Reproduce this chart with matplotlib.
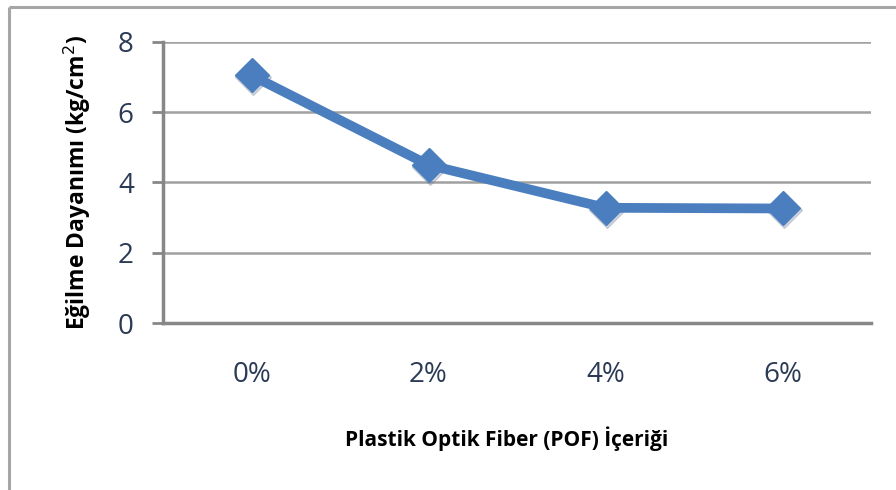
import matplotlib
matplotlib.use("Agg")
import matplotlib.pyplot as plt
from matplotlib.lines import Line2D

categories = ["0%", "2%", "4%", "6%"]
strength = [7.05, 4.5, 3.28, 3.26]
yticks = [0, 2, 4, 6, 8]

W, H = 896, 490
fig = plt.figure(figsize=(W / 100, H / 100), dpi=100)
fig.patch.set_facecolor("white")

# outer chart frame (top and left edges)
frame_kw = dict(color="#A6A6A6", lw=2.2, transform=fig.transFigure, solid_capstyle="butt")
fig.add_artist(Line2D([9 / W, 1.0], [1 - 7 / H, 1 - 7 / H], **frame_kw))
fig.add_artist(Line2D([9 / W, 9 / W], [0, 1 - 7 / H], **frame_kw))

ax = fig.add_axes([163 / W, 1 - 323 / H, (871 - 163) / W, (323 - 42) / H])
ax.set_facecolor("white")

x = list(range(len(categories)))
# soft drop shadow under the markers
ax.plot([v + 0.01 for v in x], [s - 0.05 for s in strength], linestyle="none",
        marker="D", markersize=18, color="#6F7F96", alpha=0.3, zorder=4)
ax.plot(x, strength, color="#4A7EBF", lw=7, marker="D", markersize=17,
        markerfacecolor="#4A7EBF", markeredgecolor="#4A7EBF", zorder=5,
        solid_joinstyle="round")

ax.set_xlim(-0.5, len(categories) - 0.5)
ax.set_ylim(0, 8)
ax.set_yticks(yticks)
ax.set_xticks(x)
ax.set_xticklabels(categories)
ax.grid(axis="y", color="#A0A0A0", lw=1.8)
ax.set_axisbelow(True)

for s in ["top", "right"]:
    ax.spines[s].set_visible(False)
ax.spines["left"].set_color("#878787")
ax.spines["left"].set_linewidth(2.5)
ax.spines["bottom"].set_color("#878787")
ax.spines["bottom"].set_linewidth(2.5)

ax.tick_params(axis="y", length=8, width=2, color="#878787", pad=13,
               labelsize=20, labelcolor="#2B3A55")
ax.tick_params(axis="x", length=0, pad=27, labelsize=20, labelcolor="#2B3A55")
for lab in ax.get_xticklabels() + ax.get_yticklabels():
    lab.set_fontfamily("Open Sans")

ax.set_ylabel("Eğilme Dayanımı (kg/cm$^2$)", fontsize=16.5, fontweight="bold",
              fontfamily="Open Sans", color="black", labelpad=18)
ax.set_xlabel("Plastik Optik Fiber (POF) İçeriği", fontsize=15, fontweight="bold",
              fontfamily="Open Sans", color="black")
ax.xaxis.set_label_coords(0.486, -0.368)

fig.savefig("out.png", dpi=100, facecolor="white")
